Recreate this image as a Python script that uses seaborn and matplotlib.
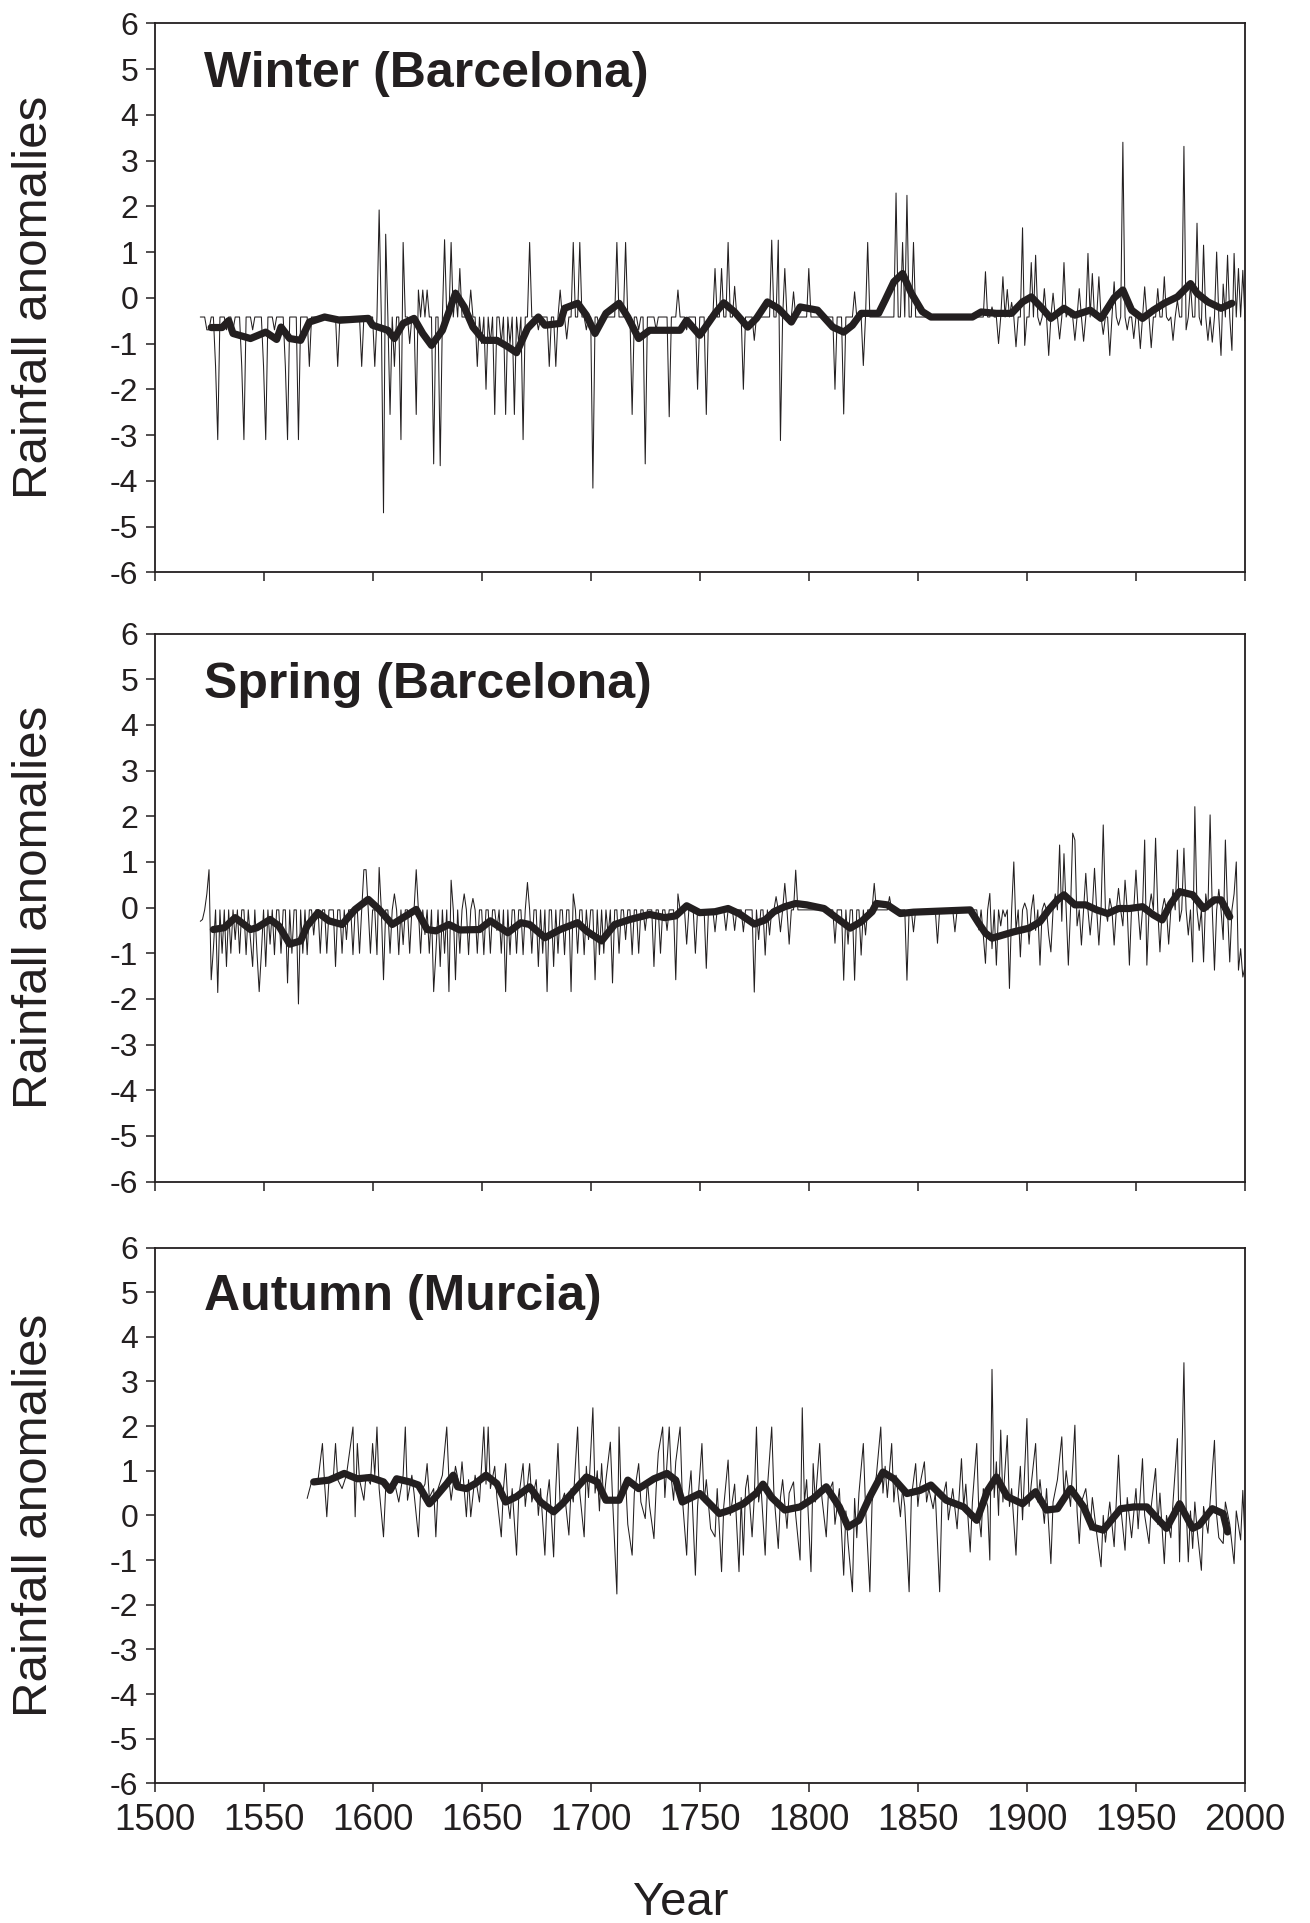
import numpy as np
import pandas as pd
import matplotlib
matplotlib.use("Agg")
import matplotlib.pyplot as plt
import seaborn as sns

# ---------------- data ----------------
# Winter (Barcelona): most years sit on the index-0 level, spikes listed
winter_first, winter_last = 1521, 2000
winter_base = -0.42
winter_spike_years = [
    1524, 1525, 1528, 1529, 1533, 1536, 1540, 1541, 1545, 1550, 1551, 1555,
    1560, 1561, 1566, 1571, 1584, 1595, 1601, 1603, 1605, 1606, 1608, 1610,
    1613, 1614, 1617, 1620, 1621, 1623, 1625, 1628, 1631, 1633, 1636, 1638,
    1640, 1645, 1648, 1650, 1652, 1654, 1656, 1659, 1661, 1663, 1665, 1667,
    1669, 1672, 1676, 1681, 1684, 1686, 1689, 1692, 1695, 1698, 1701, 1704,
    1712, 1716, 1719, 1722, 1725, 1730, 1736, 1740, 1744, 1749, 1753, 1757,
    1760, 1763, 1766, 1770, 1775, 1783, 1786, 1787, 1789, 1793, 1800, 1812,
    1816, 1821, 1825, 1827, 1840, 1843, 1845, 1848,
    1881, 1884, 1887, 1889, 1891, 1893, 1895, 1898, 1899, 1902, 1904, 1906,
    1908, 1910, 1912, 1915, 1917, 1919, 1922, 1924, 1926, 1928, 1930, 1933,
    1935, 1938, 1940, 1942, 1944, 1946, 1949, 1952, 1954, 1957, 1960, 1963,
    1965, 1967, 1969, 1972, 1973, 1975, 1978, 1980, 1981, 1983, 1985, 1987,
    1989, 1990, 1992, 1994, 1995, 1997, 1999, 2000,
]
winter_spike_vals = [
    -0.7, -0.7, -1.5, -3.1, -0.7, -0.7, -1.5, -3.1, -0.7, -1.5, -3.1, -0.7,
    -1.5, -3.1, -3.1, -1.5, -1.5, -1.5, -1.5, 1.92, -4.7, 1.39, -2.55, -1.5,
    -3.1, 1.21, -1.0, -2.55, 0.17, 0.17, 0.17, -3.63, -3.67, 1.27, 1.21, 0.17,
    0.64, 0.17, -1.5, -1.0, -2.0, -1.0, -2.55, -1.0, -2.55, -1.0, -2.55, -1.0,
    -3.1, 1.21, -0.7, -1.5, -1.5, 0.17, -0.9, 1.21, 1.21, -0.7, -4.16, -0.7,
    1.21, 1.21, -2.55, -0.7, -3.63, -0.7, -2.6, 0.17, -0.7, -2.0, -2.55, 0.64,
    0.64, 1.21, 0.25, -2.0, -0.93, 1.26, 1.26, -3.12, 0.64, 0.13, 0.64, -2.0,
    -2.54, 0.13, -1.48, 1.21, 2.29, 1.21, 2.24, 1.21,
    0.57, -0.2, -1.0, 0.46, 0.18, -0.1, -1.07, 1.53, -1.04, 0.77, 0.93, -0.6,
    0.2, -1.26, 0.1, -0.9, 0.77, -0.3, -0.93, 0.2, -0.95, 0.97, 0.53, 0.46,
    -0.8, -1.26, 0.35, -0.6, 3.4, -0.7, -0.89, -1.11, 0.24, -1.09, 0.2, 0.46,
    -0.5, -0.93, -0.05, 3.31, -0.7, 0.3, 1.63, -0.6, 1.15, -0.93, -0.97, 1.0,
    -1.26, 0.3, 0.93, -1.15, 0.97, 0.64, 0.6, -0.5,
]
winter_smooth_years = [
    1526, 1531, 1534, 1536, 1544, 1551, 1556, 1558, 1562, 1567, 1571, 1578,
    1585, 1598, 1600, 1607, 1610, 1614, 1619, 1623, 1627, 1632, 1638, 1642,
    1646, 1651, 1657, 1662, 1666, 1671, 1676, 1679, 1686, 1688, 1694, 1698,
    1702, 1707, 1713, 1717, 1722, 1727, 1741, 1744, 1750, 1757, 1761, 1766,
    1772, 1776, 1781, 1786, 1792, 1796, 1804, 1811, 1816, 1820, 1824, 1832,
    1835, 1839, 1843, 1847, 1852, 1856, 1875, 1879, 1886, 1893, 1898, 1902,
    1907, 1911, 1917, 1922, 1929, 1934, 1940, 1944, 1948, 1953, 1958, 1963,
    1969, 1975, 1978, 1983, 1989, 1994,
]
winter_smooth_vals = [
    -0.65, -0.65, -0.5, -0.78, -0.89, -0.75, -0.91, -0.64, -0.89, -0.93, -0.53, -0.42,
    -0.49, -0.45, -0.6, -0.71, -0.89, -0.56, -0.45, -0.78, -1.04, -0.71, 0.1, -0.2,
    -0.64, -0.93, -0.93, -1.07, -1.2, -0.67, -0.42, -0.6, -0.56, -0.23, -0.12, -0.38,
    -0.78, -0.34, -0.12, -0.42, -0.89, -0.71, -0.71, -0.49, -0.82, -0.34, -0.11, -0.31,
    -0.64, -0.45, -0.09, -0.23, -0.53, -0.2, -0.27, -0.64, -0.75, -0.6, -0.34, -0.34,
    -0.05, 0.35, 0.53, 0.1, -0.3, -0.42, -0.42, -0.31, -0.34, -0.34, -0.09, 0.02,
    -0.23, -0.45, -0.23, -0.38, -0.27, -0.45, 0.0, 0.17, -0.27, -0.45, -0.27, -0.12,
    0.02, 0.31, 0.1, -0.09, -0.23, -0.12,
]

# Spring (Barcelona)
spring_first, spring_last = 1521, 2000
spring_base = -0.05
spring_spike_years = [
    1521, 1522, 1524, 1525, 1526, 1527, 1529, 1531, 1533, 1535, 1537, 1539,
    1542, 1544, 1545, 1547, 1548, 1549, 1551, 1553, 1555, 1558, 1561, 1563,
    1566, 1568, 1570, 1573, 1576, 1579, 1583, 1586, 1588, 1591, 1594, 1596,
    1597, 1599, 1602, 1603, 1605, 1608, 1610, 1612, 1614, 1617, 1620, 1622,
    1624, 1626, 1628, 1629, 1631, 1633, 1635, 1636, 1638, 1640, 1642, 1644,
    1646, 1648, 1651, 1654, 1657, 1659, 1661, 1663, 1666, 1669, 1671, 1673,
    1676, 1678, 1680, 1683, 1685, 1688, 1691, 1692, 1694, 1697, 1699, 1702,
    1704, 1706, 1708, 1710, 1713, 1716, 1719, 1722, 1725, 1729, 1732, 1735,
    1739, 1740, 1744, 1748, 1753, 1757, 1762, 1766, 1770, 1775, 1777, 1780,
    1782, 1785, 1787, 1789, 1791, 1794, 1812, 1816, 1818, 1821, 1824, 1826,
    1830, 1837, 1845, 1848, 1859, 1867, 1878,
    1880, 1881, 1883, 1884, 1886, 1888, 1890, 1892, 1894, 1895, 1897, 1899,
    1901, 1903, 1904, 1906, 1908, 1910, 1911, 1913, 1915, 1916, 1917, 1919,
    1921, 1922, 1923, 1925, 1927, 1929, 1931, 1933, 1935, 1937, 1938, 1940,
    1942, 1944, 1945, 1947, 1948, 1950, 1952, 1954, 1955, 1957, 1959, 1961,
    1963, 1965, 1967, 1969, 1970, 1972, 1974, 1976, 1977, 1979, 1981, 1982,
    1984, 1986, 1988, 1990, 1991, 1993, 1995, 1996, 1997, 1998, 1999, 2000,
]
spring_spike_vals = [
    -0.3, -0.26, 0.3, 0.83, -1.58, -0.9, -1.86, -1.0, -1.29, -1.0, -0.7, -1.0,
    -1.03, -0.7, -1.29, -1.0, -1.84, -1.0, -1.29, -0.8, -1.03, -1.0, -1.65, -1.0,
    -2.11, -1.0, -1.03, -0.6, -1.0, -1.0, -1.29, -1.0, -0.7, -1.03, -1.0, 0.83,
    0.83, -1.0, -1.03, 0.88, -1.58, -1.0, 0.3, -1.03, -0.81, -1.0, 0.83, -1.0,
    -0.59, -1.0, -1.84, -1.0, -1.29, -1.0, -1.84, 0.6, -1.58, -1.0, 0.3, -1.03,
    0.2, -1.0, -1.03, -1.0, -0.5, -1.0, -1.84, -1.03, -1.0, -1.03, 0.55, -1.0,
    -1.29, -1.0, -1.84, -1.29, -1.0, -1.03, -1.84, 0.3, -1.0, -1.03, -0.7, -1.58,
    -1.03, -1.0, -0.6, -1.65, -1.0, -0.7, -1.03, -1.0, -0.5, -1.29, -1.0, -0.5,
    -1.58, 0.3, -0.8, -1.0, -1.33, -0.53, -0.5, -0.5, -0.53, -1.85, -0.7, -1.04,
    -0.6, 0.24, -0.53, 0.53, -0.8, 0.82, -0.78, -1.59, -0.8, -1.59, -1.04, -0.6,
    0.53, 0.24, -1.59, -0.53, -0.78, -0.53, -0.49,
    -0.6, -1.22, 0.31, -0.9, -1.26, -0.4, -0.2, -1.77, 1.0, -0.5, -1.08, 0.1,
    -0.8, 0.28, -0.5, -1.26, 0.1, -0.6, -0.97, 0.3, 1.37, -0.3, 1.18, -1.26,
    1.63, 1.48, -0.4, -0.82, 0.75, -0.6, 0.86, -0.82, 1.81, -0.3, 0.2, -0.82,
    0.42, -0.4, 0.6, -1.26, 0.0, 0.82, -0.7, 1.48, -1.26, 0.3, 1.52, -0.97,
    0.2, -0.8, 0.4, 1.26, -0.3, 1.3, -0.6, -1.19, 2.21, -0.5, -1.19, 0.3,
    2.03, -1.37, 0.4, -0.7, 1.48, -1.19, 0.3, 1.0, -1.37, -0.9, -1.52, -1.3,
]
spring_smooth_years = [
    1527, 1532, 1537, 1544, 1547, 1553, 1557, 1562, 1567, 1570, 1575, 1580,
    1586, 1592, 1598, 1603, 1609, 1620, 1625, 1629, 1635, 1640, 1649, 1654,
    1662, 1668, 1672, 1679, 1686, 1694, 1698, 1705, 1711, 1718, 1727, 1734,
    1739, 1744, 1750, 1757, 1763, 1768, 1775, 1780, 1784, 1789, 1794, 1799,
    1807, 1814, 1819, 1824, 1829, 1831, 1836, 1842, 1848, 1874, 1878, 1881,
    1884, 1889, 1894, 1901, 1906, 1910, 1914, 1917, 1922, 1927, 1932, 1937,
    1942, 1947, 1953, 1958, 1962, 1966, 1970, 1976, 1981, 1986, 1989, 1993,
]
spring_smooth_vals = [
    -0.48, -0.44, -0.22, -0.48, -0.44, -0.26, -0.4, -0.8, -0.73, -0.4, -0.11, -0.29,
    -0.37, -0.04, 0.18, -0.04, -0.37, -0.04, -0.48, -0.51, -0.37, -0.49, -0.48, -0.29,
    -0.55, -0.33, -0.37, -0.66, -0.48, -0.33, -0.51, -0.73, -0.37, -0.26, -0.15, -0.22,
    -0.18, 0.04, -0.11, -0.09, -0.02, -0.13, -0.36, -0.27, -0.09, 0.02, 0.09, 0.06,
    -0.02, -0.27, -0.45, -0.31, -0.09, 0.09, 0.06, -0.13, -0.1, -0.05, -0.35, -0.56,
    -0.67, -0.6, -0.53, -0.45, -0.31, -0.05, 0.17, 0.28, 0.06, 0.06, -0.05, -0.13,
    -0.02, -0.02, 0.02, -0.16, -0.27, 0.09, 0.35, 0.28, -0.02, 0.17, 0.17, -0.2,
]

# Autumn (Murcia): annual values listed directly
autumn_years = [
    1570, 1572, 1575, 1577, 1578, 1579, 1580, 1582, 1583, 1584, 1586, 1588,
    1591, 1592, 1593, 1594, 1596, 1597, 1599, 1600, 1601, 1602, 1603, 1605,
    1606, 1608, 1610, 1612, 1614, 1615, 1616, 1618, 1619, 1621, 1622, 1624,
    1625, 1626, 1628, 1629, 1630, 1632, 1634, 1635, 1636, 1638, 1640, 1641,
    1643, 1644, 1645, 1647, 1649, 1651, 1652, 1653, 1654, 1656, 1657, 1659,
    1660, 1661, 1662, 1663, 1664, 1666, 1667, 1669, 1670, 1672, 1673, 1675,
    1676, 1677, 1679, 1680, 1681, 1683, 1684, 1685, 1686, 1688, 1690, 1691,
    1692, 1694, 1695, 1697, 1698, 1699, 1701, 1702, 1703, 1704, 1705, 1706,
    1707, 1709, 1710, 1712, 1713, 1714, 1716, 1717, 1719, 1720, 1722, 1723,
    1725, 1726, 1727, 1729, 1730, 1731, 1733, 1734, 1736, 1737, 1738, 1739,
    1741, 1742, 1744, 1745, 1746, 1748, 1749, 1751, 1752, 1753, 1755, 1757,
    1758, 1760, 1761, 1763, 1764, 1766, 1768, 1769, 1770, 1771, 1772, 1774,
    1775, 1776, 1777, 1778, 1780, 1781, 1783, 1784, 1786, 1787, 1788, 1790,
    1791, 1793, 1794, 1796, 1797, 1798, 1799, 1801, 1802, 1803, 1805, 1806,
    1808, 1809, 1811, 1812, 1814, 1816, 1817, 1818, 1820, 1821, 1822, 1823,
    1825, 1826, 1828, 1829, 1831, 1833, 1834, 1835, 1836, 1838, 1839, 1840,
    1842, 1843, 1844, 1846, 1847, 1849, 1850, 1851, 1853, 1854, 1855, 1857,
    1858, 1860, 1861, 1863, 1864, 1866, 1868, 1870, 1871, 1872, 1874, 1875,
    1877, 1878, 1879, 1880, 1882, 1883, 1884, 1885, 1886, 1887, 1888, 1889,
    1891, 1892, 1893, 1895, 1896, 1897, 1898, 1900, 1901, 1902, 1904, 1905,
    1906, 1908, 1909, 1911, 1912, 1914, 1916, 1917, 1918, 1920, 1922, 1923,
    1924, 1925, 1927, 1929, 1930, 1932, 1934, 1935, 1936, 1938, 1940, 1942,
    1943, 1945, 1946, 1948, 1950, 1951, 1953, 1954, 1956, 1957, 1959, 1960,
    1961, 1963, 1964, 1966, 1967, 1969, 1970, 1972, 1973, 1974, 1975, 1976,
    1977, 1978, 1980, 1981, 1983, 1984, 1986, 1987, 1988, 1990, 1991, 1993,
    1995, 1996, 1998, 1999, 2000,
]
autumn_vals = [
    0.38, 0.75, 0.8, 1.61, 0.7, -0.03, 0.8, 0.85, 1.61, 0.8, 0.6, 0.9,
    1.98, -0.03, 1.61, 0.8, 0.34, 0.9, 0.7, 1.61, 0.9, 1.98, 0.6, -0.48,
    0.6, 0.56, 0.75, 0.3, 0.9, 1.98, 0.34, 0.9, 0.5, -0.48, 0.5, 0.7,
    1.16, 0.4, 0.6, -0.48, 0.6, 0.9, 1.98, 0.8, 0.34, 1.1, 0.6, 1.2,
    -0.03, 0.8, -0.03, 0.9, 0.3, 1.98, 0.7, 1.98, 0.6, 1.1, 0.4, -0.48,
    0.6, 1.16, 0.3, -0.07, 0.6, -0.89, 0.4, 1.16, 0.2, 1.16, 0.3, 0.8,
    0.0, 0.6, -0.89, 0.4, 0.8, -0.93, 0.6, 1.61, 0.2, 0.5, -0.44, 0.6,
    0.3, 1.98, 0.5, -0.48, 1.1, 0.4, 2.41, 0.5, 1.0, 0.1, 1.16, 0.3,
    0.8, 1.64, 0.4, -1.76, 1.98, 0.3, 0.8, -0.2, -0.89, 0.5, 1.16, 0.3,
    -0.07, 0.8, 0.2, -0.52, 0.6, 1.4, 1.98, 0.4, 1.98, 0.8, 0.34, 1.2,
    1.98, 0.4, -0.89, 0.5, 1.0, -1.34, 0.2, 1.61, 0.3, 0.8, -0.3, -0.48,
    0.6, -1.26, 0.2, 1.24, 0.0, 0.7, -1.26, 0.4, -0.89, 0.6, 0.9, -0.48,
    0.4, 1.98, 0.3, 0.71, -0.89, 0.6, 1.98, 0.5, -0.74, 0.4, 0.8, -0.29,
    0.5, 0.75, 0.0, -1.0, 2.41, 0.3, 0.8, -1.26, 1.16, 0.3, 1.61, 0.4,
    -0.48, 0.5, 0.75, -0.2, 0.6, -1.34, 0.1, -0.6, -1.71, 0.38, -0.5, 0.5,
    1.61, 0.2, -1.71, 0.3, 0.9, 1.98, 0.5, 1.1, 0.4, 1.61, 0.3, 0.9,
    -0.03, 0.6, 0.2, -1.71, 0.4, 1.16, 0.2, 0.7, 1.2, 0.3, 0.6, 0.15,
    0.5, -1.71, 0.3, 0.75, -0.1, 0.6, -0.3, 1.27, 0.2, 0.7, -0.82, 0.3,
    1.61, 0.0, -0.48, 0.6, 0.2, -1.0, 3.27, 0.4, 1.2, 0.0, 1.91, 0.3,
    1.79, 0.2, 0.6, -0.89, 0.4, 1.1, -0.1, 2.17, 0.2, 0.7, 1.61, 0.3,
    0.8, -0.18, 0.6, -1.08, 0.3, 0.8, 1.76, 0.4, 1.0, 0.2, 2.02, 0.1,
    -0.63, 0.3, 0.6, -0.33, 0.4, -0.4, -1.15, 0.0, -0.6, 0.3, -0.7, 1.35,
    0.2, -0.78, 0.4, -0.5, 0.6, -0.3, 1.27, 0.0, -0.63, 0.2, 1.05, -0.2,
    0.5, -1.08, 0.0, -0.5, 0.3, 1.72, -1.04, 3.42, 0.2, -1.04, 0.1, -0.74,
    0.3, -0.3, -1.23, 0.2, -0.4, 0.3, 1.68, 0.0, -0.5, -0.63, 0.3, -0.2,
    -1.08, 0.1, -0.55, 0.56, -0.6,
]
autumn_smooth_years = [
    1573, 1580, 1587, 1593, 1599, 1605, 1608, 1611, 1617, 1621, 1626, 1629,
    1634, 1637, 1639, 1643, 1647, 1652, 1657, 1661, 1666, 1672, 1677, 1683,
    1687, 1692, 1698, 1703, 1707, 1713, 1717, 1722, 1729, 1735, 1739, 1742,
    1750, 1756, 1759, 1764, 1770, 1776, 1779, 1783, 1789, 1796, 1802, 1808,
    1814, 1818, 1823, 1828, 1834, 1839, 1845, 1851, 1856, 1863, 1871, 1877,
    1882, 1886, 1891, 1898, 1904, 1909, 1914, 1920, 1926, 1930, 1935, 1943,
    1949, 1955, 1959, 1964, 1970, 1976, 1979, 1985, 1990, 1992,
]
autumn_smooth_vals = [
    0.75, 0.79, 0.94, 0.82, 0.85, 0.75, 0.56, 0.82, 0.75, 0.68, 0.26, 0.42,
    0.71, 0.9, 0.64, 0.6, 0.71, 0.9, 0.71, 0.3, 0.42, 0.64, 0.3, 0.08,
    0.26, 0.53, 0.86, 0.75, 0.34, 0.34, 0.79, 0.6, 0.82, 0.94, 0.79, 0.3,
    0.49, 0.19, 0.04, 0.12, 0.26, 0.5, 0.7, 0.4, 0.12, 0.19, 0.38, 0.64,
    0.19, -0.26, -0.11, 0.42, 0.97, 0.82, 0.49, 0.56, 0.68, 0.34, 0.19, -0.11,
    0.56, 0.86, 0.42, 0.26, 0.53, 0.12, 0.15, 0.6, 0.19, -0.26, -0.33, 0.15,
    0.19, 0.19, -0.03, -0.29, 0.26, -0.29, -0.22, 0.15, 0.04, -0.37,
]

panel_titles = ["Winter (Barcelona)", "Spring (Barcelona)", "Autumn (Murcia)"]
year_ticks = list(range(1500, 2001, 50))
anomaly_ticks = list(range(-6, 7))


def annual_frame(first, last, base, spike_years, spike_vals):
    years = np.arange(first, last + 1)
    vals = np.full(len(years), base, dtype=float)
    for yr, v in zip(spike_years, spike_vals):
        vals[yr - first] = v
    return pd.DataFrame({"Year": years, "Anomaly": vals})


thin_frames = [
    annual_frame(winter_first, winter_last, winter_base, winter_spike_years, winter_spike_vals),
    annual_frame(spring_first, spring_last, spring_base, spring_spike_years, spring_spike_vals),
    pd.DataFrame({"Year": autumn_years, "Anomaly": autumn_vals}),
]
smooth_frames = [
    pd.DataFrame({"Year": winter_smooth_years, "Anomaly": winter_smooth_vals}),
    pd.DataFrame({"Year": spring_smooth_years, "Anomaly": spring_smooth_vals}),
    pd.DataFrame({"Year": autumn_smooth_years, "Anomaly": autumn_smooth_vals}),
]

# ---------------- plot ----------------
sns.set_style("ticks")
plt.rcParams["font.family"] = ["Liberation Sans", "DejaVu Sans"]
plt.rcParams["axes.unicode_minus"] = False

ink = "#231f20"
W, H = 1310, 1923
fig = plt.figure(figsize=(W / 100, H / 100), dpi=100)

# axes boxes in pixels: (top, bottom)
boxes = [(23.3, 572.3), (633.6, 1181.6), (1247.5, 1783.3)]
left_px, right_px = 154.5, 1245.0

for i, (top, bot) in enumerate(boxes):
    ax = fig.add_axes([left_px / W, 1 - bot / H, (right_px - left_px) / W, (bot - top) / H])
    sns.lineplot(data=thin_frames[i], x="Year", y="Anomaly", ax=ax,
                 color=ink, linewidth=0.75, estimator=None)
    sns.lineplot(data=smooth_frames[i], x="Year", y="Anomaly", ax=ax,
                 color=ink, linewidth=5.2, estimator=None)

    ax.set_xlim(1500, 2000)
    ax.set_ylim(-6, 6)
    ax.set_xticks(year_ticks)
    ax.set_yticks(anomaly_ticks)
    ax.set_xlabel("")
    ax.set_ylabel("")
    for sp in ax.spines.values():
        sp.set_visible(True)
        sp.set_color(ink)
        sp.set_linewidth(1.3)
    ax.tick_params(axis="y", direction="out", length=6.8, width=1.1, color=ink,
                   labelsize=23, labelcolor=ink, pad=5)
    ax.tick_params(axis="x", direction="out", length=6.2, width=1.1, color=ink,
                   labelsize=26.5, labelcolor=ink, pad=8)
    if i < 2:
        ax.tick_params(axis="x", labelbottom=False)

    ax.text(1522.7, 4.6, panel_titles[i], fontsize=36, fontweight="bold",
            color=ink, ha="left", va="baseline")

    fig.text(35 / W, 1 - (top + bot) / 2 / H, "Rainfall anomalies", rotation=90,
             fontsize=35.5, color=ink, ha="center", va="center")

fig.text(681 / W, 1 - 1903 / H, "Year", fontsize=34, color=ink, ha="center", va="center")

fig.savefig("out.png", dpi=100, facecolor="white")
plt.close(fig)
